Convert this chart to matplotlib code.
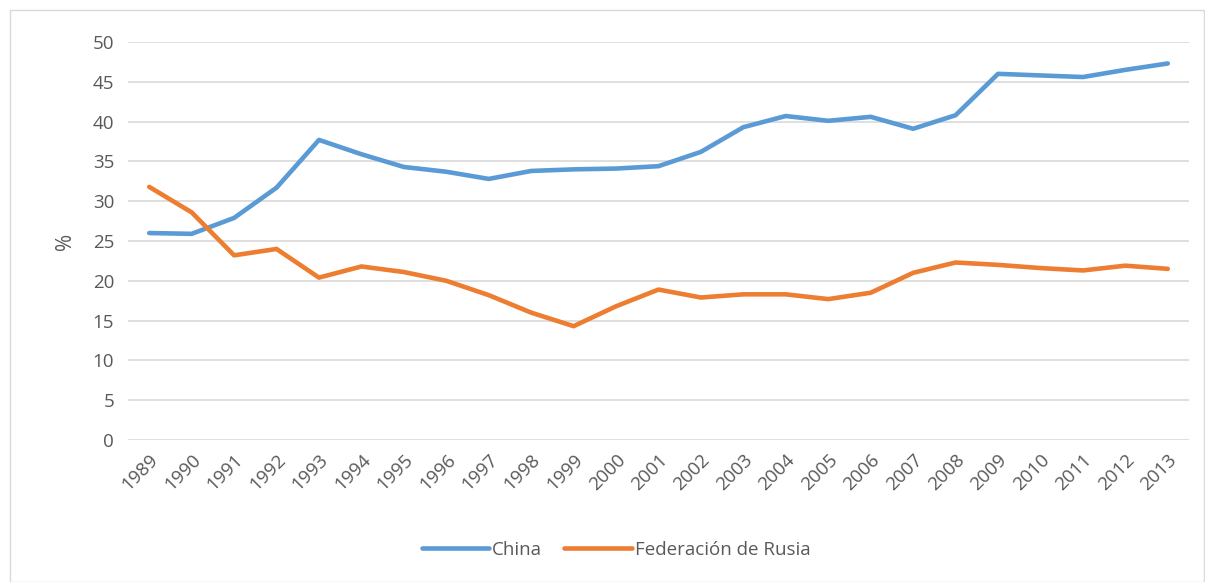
import matplotlib
matplotlib.use("Agg")
import matplotlib.pyplot as plt
from matplotlib.patches import Rectangle

years = list(range(1989, 2014))
china = [26.0, 25.9, 27.9, 31.7, 37.7, 35.9, 34.3, 33.7, 32.8, 33.8, 34.0, 34.1, 34.4,
         36.2, 39.3, 40.7, 40.1, 40.6, 39.1, 40.8, 46.0, 45.8, 45.6, 46.5, 47.3]
rusia = [31.8, 28.6, 23.2, 24.0, 20.4, 21.8, 21.1, 20.0, 18.2, 16.0, 14.3, 16.8, 18.9,
         17.9, 18.3, 18.3, 17.7, 18.5, 21.0, 22.3, 22.0, 21.6, 21.3, 21.9, 21.5]
yticks = list(range(0, 51, 5))

plt.rcParams['font.family'] = ['Open Sans', 'DejaVu Sans']

fig = plt.figure(figsize=(12.05, 5.82), dpi=100)
fig.patches.append(Rectangle((10/1205, 0), 1 - 10/1205 - 0.001, 1 - 10/582,
                             transform=fig.transFigure, fill=False,
                             edgecolor='#D9D9D9', linewidth=1))
ax = fig.add_axes([128/1205, 1 - 440/582, (1189-128)/1205, (440-42)/582])

ax.plot(years, china, color='#5B9BD5', lw=3.3, label='China', solid_capstyle='round')
ax.plot(years, rusia, color='#ED7D31', lw=3.3, label='Federación de Rusia', solid_capstyle='round')

ax.set_xlim(1988.5, 2013.5)
ax.set_ylim(0, 50)
ax.set_yticks(yticks)
ax.set_xticks(years)
ax.set_xticklabels([str(y) for y in years], rotation=45, ha='right', rotation_mode='anchor')
ax.tick_params(axis='both', length=0, labelsize=13.5, colors='#595959')
ax.tick_params(axis='x', pad=8)
ax.tick_params(axis='y', pad=10)
ax.grid(axis='y', color='#D9D9D9', lw=1.2)
ax.set_axisbelow(True)
for s in ax.spines.values():
    s.set_visible(False)
ax.set_ylabel('%', fontsize=15, color='#595959', labelpad=12)

handles, labels = ax.get_legend_handles_labels()
fig.legend(handles, labels, loc='center', bbox_to_anchor=(616/1205, 1 - 550/582), ncol=2,
           frameon=False, fontsize=13.5, labelcolor='#595959', handlelength=3.6,
           handletextpad=0.15, columnspacing=1.2)

fig.savefig('out.png', dpi=100)
